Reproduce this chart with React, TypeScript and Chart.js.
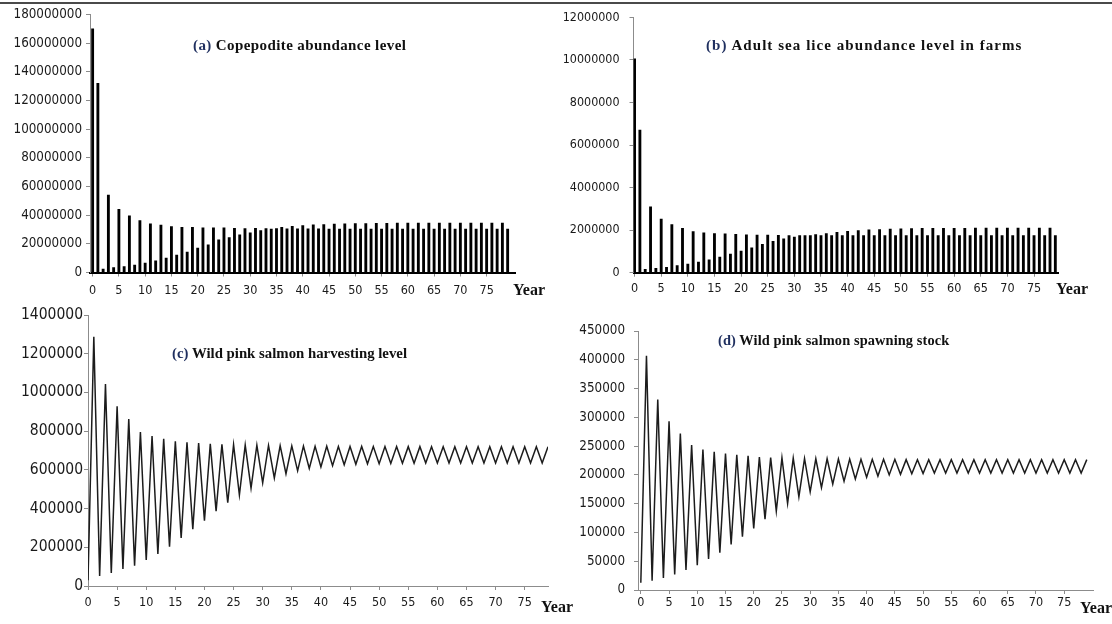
import React, { useEffect, useRef } from "react";
import { Chart, registerables } from "chart.js";

Chart.register(...registerables);

// ---------------- DATA ----------------
const YEARS = [
  0, 1, 2, 3, 4, 5, 6, 7, 8, 9, 10, 11, 12, 13, 14, 15, 16, 17, 18, 19,
  20, 21, 22, 23, 24, 25, 26, 27, 28, 29, 30, 31, 32, 33, 34, 35, 36, 37, 38, 39,
  40, 41, 42, 43, 44, 45, 46, 47, 48, 49, 50, 51, 52, 53, 54, 55, 56, 57, 58, 59,
  60, 61, 62, 63, 64, 65, 66, 67, 68, 69, 70, 71, 72, 73, 74, 75, 76, 77, 78, 79,
];

const X_TICK_LABELS = [0, 5, 10, 15, 20, 25, 30, 35, 40, 45, 50, 55, 60, 65, 70, 75];

// (a) Copepodite abundance level
const COPEPODITE = [
  170000000, 132000000, 2300000, 54000000, 3500000, 44000000, 4200000, 39500000, 5100000, 36200000,
  6500000, 33900000, 8100000, 33000000, 10000000, 32100000, 12100000, 31600000, 14200000, 31600000,
  17000000, 31100000, 19300000, 31100000, 22800000, 31100000, 24400000, 30900000, 26300000, 30700000,
  27700000, 30900000, 29300000, 30700000, 30300000, 30600000, 31600000, 30500000, 32200000, 30400000,
  32800000, 30400000, 33200000, 30400000, 33500000, 30300000, 33800000, 30300000, 34000000, 30300000,
  34100000, 30300000, 34200000, 30300000, 34300000, 30300000, 34300000, 30300000, 34400000, 30300000,
  34400000, 30300000, 34400000, 30300000, 34400000, 30300000, 34500000, 30300000, 34500000, 30300000,
  34500000, 30300000, 34500000, 30300000, 34500000, 30300000, 34500000, 30300000, 34500000, 30300000,
];

// (b) Adult sea lice abundance level in farms
const ADULT_LICE = [
  10050000, 6700000, 160000, 3100000, 200000, 2520000, 250000, 2260000, 330000, 2090000,
  410000, 1930000, 500000, 1870000, 600000, 1840000, 730000, 1830000, 870000, 1800000,
  1020000, 1780000, 1170000, 1770000, 1330000, 1770000, 1480000, 1760000, 1590000, 1750000,
  1680000, 1750000, 1740000, 1750000, 1790000, 1750000, 1840000, 1750000, 1900000, 1750000,
  1950000, 1750000, 1980000, 1750000, 2010000, 1750000, 2030000, 1750000, 2050000, 1750000,
  2060000, 1750000, 2070000, 1750000, 2080000, 1750000, 2080000, 1750000, 2090000, 1750000,
  2090000, 1750000, 2090000, 1750000, 2100000, 1750000, 2100000, 1750000, 2100000, 1750000,
  2100000, 1750000, 2100000, 1750000, 2100000, 1750000, 2100000, 1750000, 2100000, 1750000,
];

// (c) Wild pink salmon harvesting level
const HARVEST = [
  30000, 1288000, 52000, 1044000, 67000, 928000, 88000, 862000, 105000, 796000,
  134000, 775000, 165000, 760000, 203000, 748000, 248000, 743000, 294000, 738000,
  337000, 735000, 387000, 732000, 430000, 730000, 470000, 728000, 506000, 727000,
  533000, 726000, 558000, 725000, 580000, 724000, 595000, 723000, 607000, 722000,
  615000, 722000, 622000, 721000, 626000, 721000, 629000, 721000, 631000, 720000,
  632000, 720000, 633000, 720000, 634000, 720000, 634000, 720000, 635000, 720000,
  635000, 720000, 635000, 720000, 635000, 720000, 635000, 720000, 635000, 720000,
  635000, 720000, 635000, 720000, 635000, 720000, 635000, 720000, 635000, 720000,
];

// (d) Wild pink salmon spawning stock
const SPAWNING = [
  12700, 406800, 16000, 331000, 21000, 293000, 27000, 272000, 35000, 252000,
  43000, 244000, 54000, 240000, 65000, 237000, 79000, 235000, 92500, 233000,
  107000, 231000, 123000, 230000, 137000, 229500, 150500, 229000, 162000, 228500,
  170700, 228000, 178000, 228000, 184000, 227500, 189000, 227500, 193000, 227000,
  196000, 227000, 198000, 227000, 200000, 227000, 201000, 226500, 202000, 226500,
  202500, 226500, 203000, 226500, 203000, 226500, 203000, 226500, 203000, 226500,
  203000, 226500, 203000, 226500, 203000, 226500, 203000, 226500, 203000, 226500,
  203000, 226500, 203000, 226500, 203000, 226500, 203000, 226500, 203000, 226500,
];

const TITLES = [
  { tag: "(a)", text: "Copepodite abundance level" },
  { tag: "(b)", text: "Adult sea lice abundance level in farms" },
  { tag: "(c)", text: "Wild pink salmon harvesting level" },
  { tag: "(d)", text: "Wild pink salmon spawning stock" },
];
const X_AXIS_NAME = "Year";

// ---------------- LAYOUT / STYLE ----------------
type Rect = { left: number; top: number; width: number; height: number };
type Area = { left: number; top: number; right: number; bottom: number };
type PanelCfg = {
  kind: "bar" | "line";
  values: number[];
  canvas: Rect;
  area: Area;
  xMin: number;
  xMax: number;
  yMax: number;
  yStep: number;
  yFont: number;
  yPad: number;
  xFont: number;
  xLine: number;
  xPad: number;
  baseColor: string;
  baseWidth: number;
  title: { left: number; top: number; size: number; spacing: number };
  yearPos: { left: number; top: number };
};

const AXIS_GREY = "#8c8c8c";
const TICK_FONT = "'DejaVu Sans Condensed', 'DejaVu Sans', sans-serif";
const TITLE_FONT = "'Liberation Serif', 'Times New Roman', serif";

const PANELS: PanelCfg[] = [
  {
    kind: "bar",
    values: COPEPODITE,
    canvas: { left: 0, top: 0, width: 556, height: 310 },
    area: { left: 90, top: 14.5, right: 515, bottom: 272.5 },
    xMin: -0.5,
    xMax: 80.4,
    yMax: 180000000,
    yStep: 20000000,
    yFont: 13.3,
    yPad: 4,
    xFont: 12.5,
    xLine: 1.2,
    xPad: 6.5,
    baseColor: "#000",
    baseWidth: 2,
    title: { left: 193, top: 36, size: 15, spacing: 0.4 },
    yearPos: { left: 513, top: 281 },
  },
  {
    kind: "bar",
    values: ADULT_LICE,
    canvas: { left: 556, top: 0, width: 556, height: 310 },
    area: { left: 633.5, top: 12.5, right: 1058, bottom: 272.7 },
    xMin: -0.2,
    xMax: 79.5,
    yMax: 12000000,
    yStep: 2000000,
    yFont: 12.4,
    yPad: 10,
    xFont: 12.5,
    xLine: 1.2,
    xPad: 5,
    baseColor: "#000",
    baseWidth: 2,
    title: { left: 706, top: 36, size: 15, spacing: 1.05 },
    yearPos: { left: 1056, top: 280 },
  },
  {
    kind: "line",
    values: HARVEST,
    canvas: { left: 0, top: 300, width: 556, height: 324 },
    area: { left: 88, top: 315, right: 548, bottom: 586 },
    xMin: 0,
    xMax: 79,
    yMax: 1400000,
    yStep: 200000,
    yFont: 15.5,
    yPad: 1,
    xFont: 12.5,
    xLine: 1.2,
    xPad: 5.5,
    baseColor: AXIS_GREY,
    baseWidth: 1,
    title: { left: 172, top: 344, size: 14.8, spacing: 0 },
    yearPos: { left: 541, top: 598 },
  },
  {
    kind: "line",
    values: SPAWNING,
    canvas: { left: 556, top: 300, width: 556, height: 324 },
    area: { left: 638, top: 331, right: 1093, bottom: 590 },
    xMin: -0.5,
    xMax: 80.1,
    yMax: 450000,
    yStep: 50000,
    yFont: 13.3,
    yPad: 9,
    xFont: 12.5,
    xLine: 1.2,
    xPad: 1.5,
    baseColor: AXIS_GREY,
    baseWidth: 1,
    title: { left: 718, top: 331, size: 14.4, spacing: 0.1 },
    yearPos: { left: 1080, top: 599 },
  },
];

const TICK_LEN = 4;
const X_AXIS_BOX = 30;

function Panel({ cfg }: { cfg: PanelCfg }) {
  const ref = useRef<HTMLCanvasElement | null>(null);

  useEffect(() => {
    const canvas = ref.current;
    if (!canvas) return;
    const c = cfg;
    const yAxisWidth = c.area.left - c.canvas.left;
    const padTop = c.area.top - c.canvas.top;
    const padRight = c.canvas.left + c.canvas.width - c.area.right;
    const padBottom = c.canvas.top + c.canvas.height - c.area.bottom - X_AXIS_BOX;

    const points = YEARS.map((yr, i) => ({ x: yr, y: c.values[i] }));

    const dataset: any =
      c.kind === "bar"
        ? {
            data: points,
            backgroundColor: "#000",
            borderWidth: 0,
            barThickness: 2.2,
            grouped: false,
          }
        : {
            data: points,
            borderColor: "#1c1c1c",
            borderWidth: 1.5,
            pointRadius: 0,
            tension: 0,
            fill: false,
          };

    const chart = new Chart(canvas, {
      type: c.kind,
      data: { datasets: [dataset] },
      options: {
        animation: false,
        responsive: false,
        maintainAspectRatio: false,
        events: [],
        layout: { padding: { left: 0, top: padTop, right: padRight, bottom: padBottom } },
        plugins: {
          legend: { display: false },
          tooltip: { enabled: false },
          title: { display: false },
        },
        scales: {
          x: {
            type: "linear",
            min: c.xMin,
            max: c.xMax,
            offset: false,
            afterBuildTicks: (axis: any) => {
              axis.ticks = X_TICK_LABELS.map((v) => ({ value: v }));
            },
            afterFit: (axis: any) => {
              axis.height = X_AXIS_BOX;
            },
            grid: {
              display: true,
              offset: false,
              drawOnChartArea: false,
              drawTicks: true,
              tickLength: TICK_LEN,
              color: AXIS_GREY,
            },
            border: { display: true, color: c.baseColor, width: c.baseWidth },
            ticks: {
              autoSkip: false,
              maxRotation: 0,
              minRotation: 0,
              padding: c.xPad,
              color: "#1a1a1a",
              font: { family: TICK_FONT, size: c.xFont, lineHeight: c.xLine },
              callback: (v: any) => String(v),
            },
          },
          y: {
            type: "linear",
            min: 0,
            max: c.yMax,
            afterFit: (axis: any) => {
              axis.width = yAxisWidth;
            },
            grid: {
              display: true,
              drawOnChartArea: false,
              drawTicks: true,
              tickLength: TICK_LEN,
              color: AXIS_GREY,
            },
            border: { display: true, color: AXIS_GREY, width: 1 },
            ticks: {
              stepSize: c.yStep,
              padding: c.yPad,
              color: "#1a1a1a",
              font: { family: TICK_FONT, size: c.yFont },
              callback: (v: any) => String(v),
            },
          },
        },
      } as any,
    });
    return () => chart.destroy();
  }, [cfg]);

  return (
    <canvas
      ref={ref}
      width={cfg.canvas.width}
      height={cfg.canvas.height}
      style={{
        position: "absolute",
        left: cfg.canvas.left,
        top: cfg.canvas.top,
        width: cfg.canvas.width,
        height: cfg.canvas.height,
      }}
    />
  );
}

export default function App() {
  return (
    <div
      style={{
        position: "fixed",
        left: 0,
        top: 0,
        width: 1112,
        height: 624,
        background: "#fff",
        overflow: "hidden",
      }}
    >
      <div
        style={{
          position: "absolute",
          left: 0,
          top: 2,
          width: 1112,
          height: 2,
          background: "#4a4a4a",
        }}
      />
      {PANELS.map((p, i) => (
        <Panel key={i} cfg={p} />
      ))}
      {PANELS.map((p, i) => (
        <div
          key={"t" + i}
          style={{
            position: "absolute",
            left: p.title.left,
            top: p.title.top,
            fontFamily: TITLE_FONT,
            fontWeight: "bold",
            fontSize: p.title.size,
            letterSpacing: p.title.spacing,
            lineHeight: "18px",
            whiteSpace: "nowrap",
            color: "#111",
          }}
        >
          <span style={{ color: "#1f2f5f" }}>{TITLES[i].tag}</span> {TITLES[i].text}
        </div>
      ))}
      {PANELS.map((p, i) => (
        <div
          key={"y" + i}
          style={{
            position: "absolute",
            left: p.yearPos.left,
            top: p.yearPos.top,
            fontFamily: TITLE_FONT,
            fontWeight: "bold",
            fontSize: 16,
            lineHeight: "18px",
            whiteSpace: "nowrap",
            color: "#111",
          }}
        >
          {X_AXIS_NAME}
        </div>
      ))}
    </div>
  );
}
